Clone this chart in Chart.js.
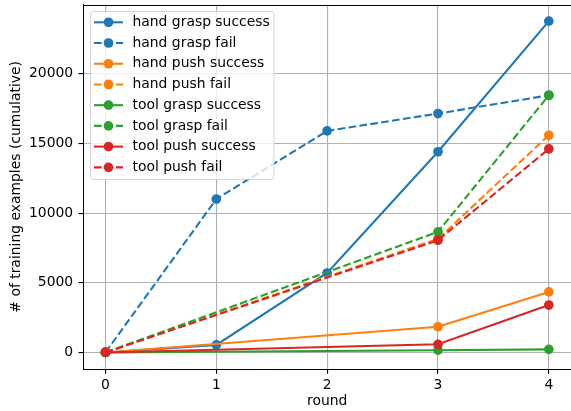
<!DOCTYPE html>
<html><head><meta charset="utf-8">
<script src="https://cdn.jsdelivr.net/npm/chart.js@4/dist/chart.umd.min.js"></script>
<style>html,body{margin:0;padding:0;background:#fff;} canvas{display:block;}</style>
</head><body>
<canvas id="c" width="571" height="411"></canvas>
<script>
// ---- data ----
const roundsAll = [0, 1, 2, 3, 4];
const roundsSparse = [0, 3, 4];
const handGraspSuccess = [0, 540, 5700, 14400, 23770];
const handGraspFail = [0, 11000, 15900, 17140, 18450];
const handPushSuccess = [0, 1840, 4340];
const handPushFail = [0, 8150, 15580];
const toolGraspSuccess = [0, 160, 220];
const toolGraspFail = [0, 8650, 18450];
const toolPushSuccess = [0, 580, 3400];
const toolPushFail = [0, 8050, 14600];
const seriesLabels = ['hand grasp success', 'hand grasp fail', 'hand push success', 'hand push fail',
  'tool grasp success', 'tool grasp fail', 'tool push success', 'tool push fail'];
const xTickValues = [0, 1, 2, 3, 4];
const yTickValues = [0, 5000, 10000, 15000, 20000];
const xTitle = 'round';
const yTitle = '# of training examples (cumulative)';

// ---- styling ----
const FONT = '"DejaVu Sans", "Liberation Sans", sans-serif';
const FS = 13.9;
const LW = 2.08;
const PR = 4.85;
const seriesSpec = [
  [roundsAll, handGraspSuccess, '#1f77b4', false],
  [roundsAll, handGraspFail, '#1f77b4', true],
  [roundsSparse, handPushSuccess, '#ff7f0e', false],
  [roundsSparse, handPushFail, '#ff7f0e', true],
  [roundsSparse, toolGraspSuccess, '#2ca02c', false],
  [roundsSparse, toolGraspFail, '#2ca02c', true],
  [roundsSparse, toolPushSuccess, '#d62728', false],
  [roundsSparse, toolPushFail, '#d62728', true]
];
const DASH = [7.7, 3.3];

const datasets = seriesSpec.map(([xs, ys, col, dashed], i) => ({
  label: seriesLabels[i],
  data: xs.map((x, k) => ({x: x, y: ys[k]})),
  borderColor: col,
  backgroundColor: col,
  borderWidth: LW,
  borderDash: dashed ? DASH : [],
  pointRadius: PR,
  pointHoverRadius: PR,
  pointBorderWidth: 0,
  pointBackgroundColor: col,
  fill: false,
  tension: 0,
  order: seriesSpec.length - 1 - i
}));

const legendPlugin = {
  id: 'mplLegend',
  afterDraw(chart) {
    const ctx = chart.ctx;
    const x0 = 90.5, y0 = 11.5, w = 183.5, h = 168;
    ctx.save();
    ctx.beginPath();
    ctx.roundRect(x0, y0, w, h, 3);
    ctx.fillStyle = 'rgba(255,255,255,0.8)';
    ctx.fill();
    ctx.strokeStyle = 'rgba(204,204,204,0.8)';
    ctx.lineWidth = 1;
    ctx.stroke();
    chart.data.datasets.forEach((ds, i) => {
      const cy = 22.3 + i * 20.72;
      ctx.strokeStyle = ds.borderColor;
      ctx.lineWidth = LW;
      ctx.setLineDash(ds.borderDash || []);
      ctx.beginPath();
      ctx.moveTo(94, cy);
      ctx.lineTo(123, cy);
      ctx.stroke();
      ctx.setLineDash([]);
      ctx.fillStyle = ds.borderColor;
      ctx.beginPath();
      ctx.arc(108.5, cy, PR, 0, Math.PI * 2);
      ctx.fill();
      ctx.fillStyle = '#000';
      ctx.font = FS + 'px ' + FONT;
      ctx.textBaseline = 'middle';
      ctx.textAlign = 'left';
      ctx.fillText(ds.label, 132.5, cy);
    });
    ctx.restore();
  }
};

const framePlugin = {
  id: 'frame',
  afterDatasetsDraw(chart) {
    const {ctx, chartArea: a} = chart;
    ctx.save();
    ctx.strokeStyle = '#000';
    ctx.lineWidth = 1;
    ctx.beginPath();
    ctx.moveTo(a.left, Math.round(a.top) + 0.5);
    ctx.lineTo(a.right, Math.round(a.top) + 0.5);
    ctx.moveTo(Math.round(a.left) + 0.5, a.top);
    ctx.lineTo(Math.round(a.left) + 0.5, a.bottom);
    ctx.moveTo(a.left, Math.round(a.bottom) + 0.5);
    ctx.lineTo(a.right, Math.round(a.bottom) + 0.5);
    ctx.stroke();
    ctx.restore();
  }
};

const tickFont = {family: FONT, size: FS};
new Chart(document.getElementById('c').getContext('2d'), {
  type: 'line',
  data: {datasets},
  options: {
    responsive: false,
    animation: false,
    events: [],
    layout: {autoPadding: false, padding: {top: 4.7, right: 0, left: 0, bottom: 0}},
    plugins: {legend: {display: false}, tooltip: {enabled: false}},
    scales: {
      x: {
        type: 'linear',
        min: -0.2, max: 4.2,
        afterBuildTicks: s => { s.ticks = xTickValues.map(v => ({value: v})); },
        afterFit: s => { s.height = 42; s.paddingLeft = 0; s.paddingRight = 0; s.paddingTop = 0; s.paddingBottom = 0; },
        grid: {color: '#b0b0b0', lineWidth: 1.1, tickColor: '#000', tickLength: 4.8, drawTicks: true},
        border: {color: '#000', width: 1},
        ticks: {color: '#000', font: tickFont, padding: 3, maxRotation: 0, autoSkip: false,
          callback: v => String(v)},
        title: {display: true, text: xTitle, color: '#000', font: tickFont, padding: {top: 0, bottom: 1}}
      },
      y: {
        type: 'linear',
        min: -1190, max: 24950,
        afterBuildTicks: s => { s.ticks = yTickValues.map(v => ({value: v})); },
        afterFit: s => { s.width = 83.3; s.paddingLeft = 0; s.paddingRight = 0; s.paddingTop = 0; s.paddingBottom = 0; },
        grid: {color: '#b0b0b0', lineWidth: 1.1, tickColor: '#000', tickLength: 4.8, drawTicks: true},
        border: {color: '#000', width: 1},
        ticks: {color: '#000', font: tickFont, padding: 5.3, autoSkip: false,
          callback: v => String(v)},
        title: {display: true, text: yTitle, color: '#000', font: tickFont, padding: {top: 8.1, bottom: 0}}
      }
    }
  },
  plugins: [framePlugin, legendPlugin]
});
</script>
</body></html>
